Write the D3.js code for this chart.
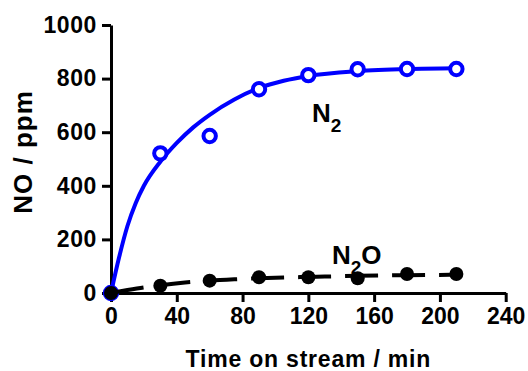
<!DOCTYPE html>
<html>
<head>
<meta charset="utf-8">
<script src="https://cdn.jsdelivr.net/npm/d3@7"></script>
<style>
  body { margin: 0; background: #fff; }
  text { font-family: "Liberation Sans", Arial, sans-serif; font-weight: bold; fill: #000; }
</style>
</head>
<body>
<svg id="chart" width="528" height="371"></svg>
<script>
// Measured NO concentration vs. time on stream
const timeMin = [0, 30, 60, 90, 120, 150, 180, 210];
const n2Values = [0, 521, 586, 760, 813, 835, 836, 836];
const n2oValues = [0, 27, 46, 59, 59, 55, 71, 71];

// Fitted curves (one-phase association) sampled along time
const n2FitTime = [0, 5, 10, 15, 20, 30, 40, 50, 60, 75, 90, 105, 120, 150, 180, 210];
const n2FitValues = [0, 135, 250, 335, 400, 490, 560, 618, 665, 722, 765, 792, 810, 828, 836, 839];
const n2oFitTime = [0, 10, 20, 30, 45, 60, 75, 90, 105, 120, 150, 180, 210];
const n2oFitValues = [0, 11, 21, 29, 39, 46, 51, 55, 58, 60, 64, 66.5, 68];

const xTicks = [0, 40, 80, 120, 160, 200, 240];
const yTicks = [0, 200, 400, 600, 800, 1000];

const svg = d3.select("#chart");

const x = d3.scaleLinear().domain([0, 240]).range([111, 505.7]);
const y = d3.scaleLinear().domain([0, 1000]).range([293, 25]);

// Axes
const xAxis = d3.axisBottom(x).tickValues(xTicks).tickFormat(d3.format("d"))
  .tickSize(9).tickSizeOuter(0).tickPadding(6);
const yAxis = d3.axisLeft(y).tickValues(yTicks).tickFormat(d3.format("d"))
  .tickSize(9).tickSizeOuter(0).tickPadding(5);

const gx = svg.append("g").attr("transform", `translate(0,${y(0)})`).call(xAxis);
const gy = svg.append("g").attr("transform", `translate(${x(0)},0)`).call(yAxis);

[gx, gy].forEach(g => {
  g.select(".domain").attr("stroke", "#000").attr("stroke-width", 3);
  g.selectAll(".tick line").attr("stroke", "#000").attr("stroke-width", 3);
  g.selectAll(".tick text")
    .style("font-family", '"Liberation Sans", Arial, sans-serif')
    .style("font-weight", "bold")
    .style("font-size", "23px")
    .attr("fill", "#000");
});
gy.selectAll(".tick text").style("letter-spacing", "0.6px");

// Axis titles
svg.append("text")
  .attr("x", (x(0) + x(240)) / 2)
  .attr("y", 367)
  .attr("text-anchor", "middle")
  .style("font-size", "23px")
  .style("letter-spacing", "0.8px")
  .text("Time on stream / min");

svg.append("text")
  .attr("transform", "translate(32,152) rotate(-90)")
  .attr("text-anchor", "middle")
  .style("font-size", "26px")
  .style("letter-spacing", "1px")
  .text("NO / ppm");

// Fit lines
const line = d3.line()
  .x(d => x(d[0]))
  .y(d => y(d[1]))
  .curve(d3.curveMonotoneX);

svg.append("path")
  .datum(n2FitTime.map((t, i) => [t, n2FitValues[i]]))
  .attr("d", line)
  .attr("fill", "none")
  .attr("stroke", "#0000ff")
  .attr("stroke-width", 4);

// N2 open circles
svg.append("g").selectAll("circle")
  .data(timeMin.map((t, i) => [t, n2Values[i]]))
  .join("circle")
  .attr("cx", d => x(d[0]))
  .attr("cy", d => y(d[1]))
  .attr("r", 6.2)
  .attr("fill", "#fff")
  .attr("stroke", "#0000ff")
  .attr("stroke-width", 4);

svg.append("path")
  .datum(n2oFitTime.map((t, i) => [t, n2oFitValues[i]]))
  .attr("d", line)
  .attr("fill", "none")
  .attr("stroke", "#000")
  .attr("stroke-width", 4)
  .attr("stroke-dasharray", "33,14");

// N2O filled circles
svg.append("g").selectAll("circle")
  .data(timeMin.map((t, i) => [t, n2oValues[i]]))
  .join("circle")
  .attr("cx", d => x(d[0]))
  .attr("cy", d => y(d[1]))
  .attr("r", 7)
  .attr("fill", "#000");

// Series labels
const n2Label = svg.append("text").attr("x", 312).attr("y", 122).style("font-size", "26px");
n2Label.append("tspan").text("N");
n2Label.append("tspan").attr("dy", 10).style("font-size", "19px").text("2");

const n2oLabel = svg.append("text").attr("x", 332).attr("y", 263.5).style("font-size", "26px");
n2oLabel.append("tspan").text("N");
n2oLabel.append("tspan").attr("dy", 10).style("font-size", "19px").text("2");
n2oLabel.append("tspan").attr("dy", -10).text("O");
</script>
</body>
</html>
